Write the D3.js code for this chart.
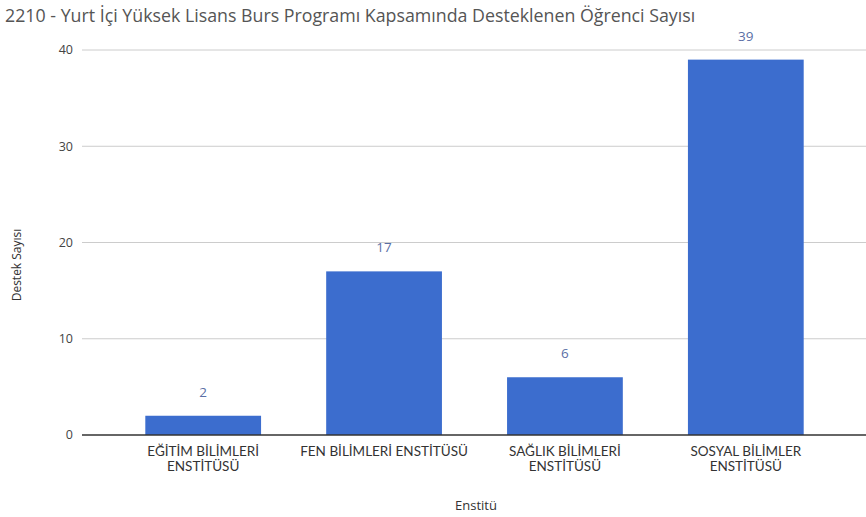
<!DOCTYPE html>
<html>
<head>
<meta charset="utf-8">
<script src="https://cdn.jsdelivr.net/npm/d3@7"></script>
<style>
  body { margin: 0; background: #fff; }
  svg { display: block; font-family: "Open Sans", "Noto Sans", sans-serif; }
</style>
</head>
<body>
<div id="chart"></div>
<script>
const title = '2210 - Yurt İçi Yüksek Lisans Burs Programı Kapsamında Desteklenen Öğrenci Sayısı';
const categories = [
  ['EĞİTİM BİLİMLERİ', 'ENSTİTÜSÜ'],
  ['FEN BİLİMLERİ ENSTİTÜSÜ'],
  ['SAĞLIK BİLİMLERİ', 'ENSTİTÜSÜ'],
  ['SOSYAL BİLİMLER', 'ENSTİTÜSÜ']
];
const values = [2, 17, 6, 39];
const yTicks = [0, 10, 20, 30, 40];
const xTitle = 'Enstitü';
const yTitle = 'Destek Sayısı';

const width = 866, height = 517;
const margin = { top: 50, right: 0, bottom: 82, left: 82 };

const svg = d3.select('#chart').append('svg')
  .attr('width', width)
  .attr('height', height);

const keys = categories.map(d => d.join(' '));

const x = d3.scaleBand()
  .domain(keys)
  .range([margin.left, 867])
  .paddingInner(0.36)
  .paddingOuter(0.35);

const y = d3.scaleLinear()
  .domain([0, 40])
  .range([height - margin.bottom, margin.top]);

// title
svg.append('text')
  .attr('x', 5)
  .attr('y', 22)
  .attr('fill', '#555')
  .style('font-size', '17.8px')
  .text(title);

// gridlines
svg.append('g')
  .selectAll('line')
  .data(yTicks.filter(t => t !== 0))
  .join('line')
  .attr('x1', margin.left)
  .attr('x2', width)
  .attr('y1', d => y(d))
  .attr('y2', d => y(d))
  .attr('stroke', '#ccc')
  .attr('stroke-width', 1);

// y tick labels
svg.append('g')
  .selectAll('text')
  .data(yTicks)
  .join('text')
  .attr('x', 73)
  .attr('y', d => y(d))
  .attr('dy', '0.35em')
  .attr('text-anchor', 'end')
  .attr('fill', '#444')
  .style('font-size', '12.5px')
  .text(d => d);

// bars
svg.append('g')
  .selectAll('rect')
  .data(values)
  .join('rect')
  .attr('x', (d, i) => x(keys[i]))
  .attr('y', d => y(d))
  .attr('width', x.bandwidth())
  .attr('height', d => y(0) - y(d))
  .attr('fill', '#3c6dce');

// value labels
svg.append('g')
  .selectAll('text')
  .data(values)
  .join('text')
  .attr('x', (d, i) => x(keys[i]) + x.bandwidth() / 2)
  .attr('y', d => y(d) - 19)
  .attr('text-anchor', 'middle')
  .attr('fill', '#5a6fa6')
  .style('font-size', '13.5px')
  .text(d => d);

// baseline
svg.append('line')
  .attr('x1', margin.left)
  .attr('x2', width)
  .attr('y1', y(0))
  .attr('y2', y(0))
  .attr('stroke', '#333')
  .attr('stroke-width', 1.3);

// category labels, one text per line
const catLines = categories.flatMap((lines, i) =>
  lines.map((t, j) => ({ key: keys[i], text: t, line: j })));

svg.append('g')
  .selectAll('text')
  .data(catLines)
  .join('text')
  .attr('x', d => x(d.key) + x.bandwidth() / 2)
  .attr('y', d => y(0) + 21 + d.line * 15)
  .attr('text-anchor', 'middle')
  .attr('fill', '#333')
  .style('font-family', 'Lato, "Open Sans", sans-serif')
  .style('font-size', '13.5px')
  .text(d => d.text);

// axis titles
svg.append('text')
  .attr('x', 476)
  .attr('y', 510)
  .attr('text-anchor', 'middle')
  .attr('fill', '#333')
  .style('font-size', '13px')
  .text(xTitle);

svg.append('text')
  .attr('transform', 'translate(21,265) rotate(-90)')
  .attr('text-anchor', 'middle')
  .attr('fill', '#333')
  .style('font-size', '12px')
  .text(yTitle);
</script>
</body>
</html>
